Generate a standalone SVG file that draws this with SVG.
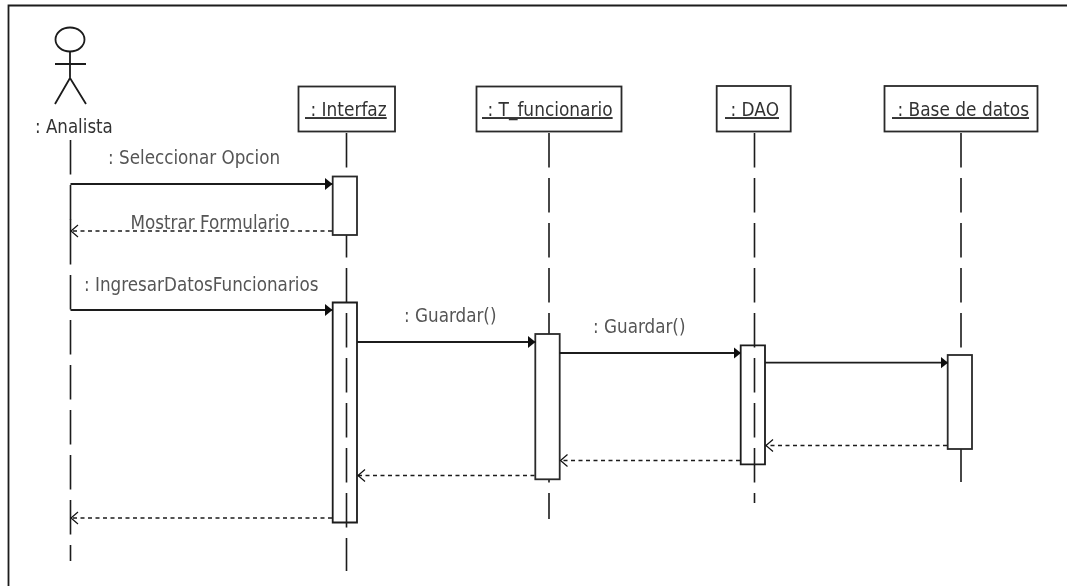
<svg xmlns="http://www.w3.org/2000/svg" width="1067" height="586" viewBox="0 0 1067 586">
<style>
.s{fill:none;stroke:#1a1a1a;stroke-width:1.8}
.b{fill:#fff;stroke:#2a2a2a;stroke-width:1.8}
.l{fill:none;stroke:#1a1a1a;stroke-width:1.6;stroke-dasharray:34.5 10.5}
.m{fill:none;stroke:#1a1a1a;stroke-width:1.8;marker-end:url(#solid)}
.r{fill:none;stroke:#1a1a1a;stroke-width:1.5;stroke-dasharray:4 3.5;marker-end:url(#open)}
text{font-family:"DejaVu Sans",sans-serif;font-size:16.8px;fill:#555}
.t{fill:#333;font-size:17px;text-decoration:underline}
</style>
<defs>
<filter id="soft" x="0" y="0" width="100%" height="100%"><feGaussianBlur stdDeviation="0.35"/></filter>
<marker id="solid" markerUnits="userSpaceOnUse" markerWidth="9" markerHeight="14" refX="7.5" refY="6.5" orient="auto"><path d="M0 0.5L7.5 6.5L0 12.5Z" fill="#111"/></marker>
<marker id="open" markerUnits="userSpaceOnUse" markerWidth="9" markerHeight="15" refX="7.5" refY="7" orient="auto"><path d="M0.5 1L7.5 7L0.5 13" fill="none" stroke="#111" stroke-width="1.2"/></marker>
</defs>
<g filter="url(#soft)">
<rect width="1067" height="586" fill="#fff"/>
<path id="frame" d="M8.5 586V5.5H1067" class="s"/>
<g id="lifelines">
<line class="l" x1="70.5" y1="140" x2="70.5" y2="561"/>
<line x1="70.5" y1="219" x2="70.5" y2="230" stroke="#1a1a1a" stroke-width="1.6"/>
<line class="l" x1="346.5" y1="133" x2="346.5" y2="571"/>
<line class="l" x1="549" y1="133" x2="549" y2="519"/>
<line class="l" x1="754.5" y1="133" x2="754.5" y2="503"/>
<line class="l" x1="961" y1="133" x2="961" y2="482"/>
</g>
<g id="analista">
<ellipse class="s" cx="70" cy="39.5" rx="14.5" ry="12"/>
<path class="s" d="M70 51.5V78M55 64H86M55 104L70 78L86 104"/>
<text transform="translate(35 133) scale(1 1.13)" style="fill:#333;font-size:16.7px">: Analista</text>
</g>
<g id="interfaz">
<rect class="b" x="298.5" y="86.5" width="96.5" height="45"/>
<text class="t" transform="translate(305 116) scale(1 1.13)" xml:space="preserve"> : Interfaz</text>
<rect class="b" x="332.7" y="176.5" width="24.3" height="58.5"/>
<path class="s" d="M332.7 522.5V302.5H357V522.5Z"/>
</g>
<g id="t_funcionario">
<rect class="b" x="476.5" y="86.5" width="145" height="45"/>
<text class="t" transform="translate(482 116) scale(1 1.13)" xml:space="preserve"> : T_funcionario</text>
<rect class="b" x="535.3" y="334" width="24.4" height="145.3"/>
</g>
<g id="dao">
<rect class="b" x="716.7" y="86" width="74" height="45.5"/>
<text class="t" transform="translate(725 116) scale(1 1.13)" xml:space="preserve"> : DAO</text>
<path class="s" d="M740.7 464.3V345.3H765V464.3Z"/>
</g>
<g id="base_de_datos">
<rect class="b" x="884.5" y="86" width="153" height="45.5"/>
<text class="t" transform="translate(892 116) scale(1 1.13)" xml:space="preserve"> : Base de datos</text>
<rect class="b" x="947.7" y="355" width="24.3" height="94"/>
</g>
<g id="connectors">
<line class="m" x1="70.5" y1="184" x2="332.5" y2="184"/>
<line class="r" x1="332" y1="231" x2="71" y2="231"/>
<line class="m" x1="70.5" y1="310" x2="332.5" y2="310"/>
<line class="m" x1="357" y1="342" x2="535.5" y2="342"/>
<line class="m" x1="559.7" y1="353" x2="741" y2="353"/>
<line class="m" x1="765" y1="362.7" x2="948" y2="362.7"/>
<line class="r" x1="947" y1="445.5" x2="766" y2="445.5"/>
<line class="r" x1="740" y1="460.5" x2="560.5" y2="460.5"/>
<line class="r" x1="534.5" y1="475.5" x2="358" y2="475.5"/>
<line class="r" x1="332" y1="518" x2="71" y2="518"/>
</g>
<g id="labels">
<text transform="translate(108 164) scale(1 1.13)">: Seleccionar Opcion</text>
<text transform="translate(130.5 228.5) scale(1 1.13)">Mostrar Formulario</text>
<text transform="translate(84 290.5) scale(1 1.13)">: IngresarDatosFuncionarios</text>
<text transform="translate(404 322) scale(1 1.13)">: Guardar()</text>
<text transform="translate(593 333) scale(1 1.13)">: Guardar()</text>
</g>
</g>
</svg>
